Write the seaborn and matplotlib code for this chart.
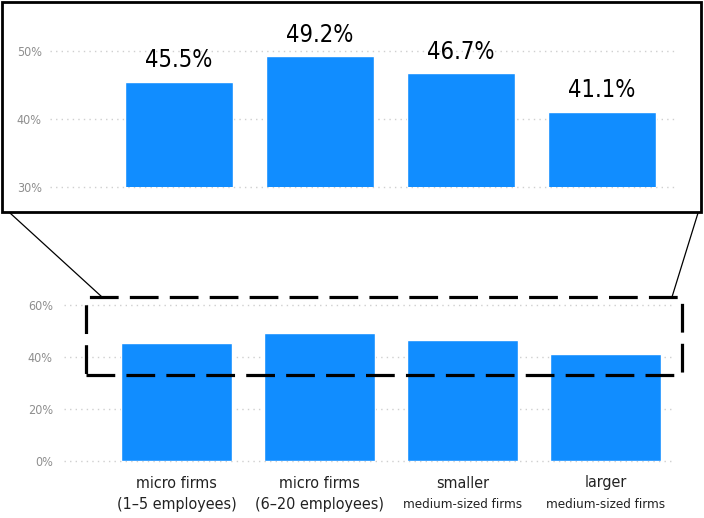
import matplotlib
matplotlib.use("Agg")
import matplotlib.pyplot as plt
import seaborn as sns
import pandas as pd
from matplotlib.patches import Rectangle
from matplotlib.lines import Line2D

categories = ["micro firms (1–5)", "micro firms (6–20)", "smaller medium-sized", "larger medium-sized"]
values = [45.5, 49.2, 46.7, 41.1]
label_line1 = ["micro firms", "micro firms", "smaller", "larger"]
label_line2 = ["(1–5 employees)", "(6–20 employees)", "medium-sized firms", "medium-sized firms"]
top_ticks = [30, 40, 50]
bottom_ticks = [0, 20, 40, 60]

sns.set_theme(style="white")
plt.rcParams["font.family"] = ["DejaVu Sans"]
plt.rcParams["font.stretch"] = "condensed"

df = pd.DataFrame({"category": categories, "value": values})

W, H = 704, 518
fig = plt.figure(figsize=(W / 100, H / 100), dpi=100)
fig.patch.set_facecolor("white")

BLUE = "#118DFF"
GRID = "#cfcfcf"
TICKC = "#8e8e8e"

def px_axes(x0, x1, ytop, ybot):
    return [x0 / W, (H - ybot) / H, (x1 - x0) / W, (ybot - ytop) / H]

# ---------- top (zoomed) axes ----------
t_lo, t_hi = 30, 55
ax_t = fig.add_axes(px_axes(50, 675, 187 - (t_hi - t_lo) * 6.8, 187))
sns.barplot(data=df, x="category", y="value", color=BLUE, width=0.77,
            saturation=1, ax=ax_t, zorder=3)
ax_t.set_ylim(t_lo, t_hi)
c0, sp = 179, 141
ax_t.set_xlim((50 - c0) / sp, (675 - c0) / sp)
ax_t.set_yticks(top_ticks)
ax_t.set_yticklabels([f"{t}%" for t in top_ticks], color=TICKC, fontsize=9,
                     fontstretch="condensed")
ax_t.tick_params(axis="y", length=0, pad=6)
ax_t.set_xticks([])
ax_t.set_xlabel("")
ax_t.set_ylabel("")
for s in ax_t.spines.values():
    s.set_visible(False)
for t in top_ticks:
    ax_t.axhline(t, color=GRID, lw=1, ls=(0, (1, 3)), zorder=1, clip_on=False)
for i, v in enumerate(values):
    ax_t.text(i, v + 2.15, f"{v:.1f}%", ha="center", va="baseline",
              fontsize=17, color="black", fontstretch="condensed")

# ---------- bottom axes ----------
b_hi = 65
ax_b = fig.add_axes(px_axes(64, 672, 461 - b_hi * 2.6, 461))
sns.barplot(data=df, x="category", y="value", color=BLUE, width=0.77,
            saturation=1, ax=ax_b, zorder=3)
ax_b.set_ylim(0, b_hi)
c0b, spb = 176.5, 143
ax_b.set_xlim((64 - c0b) / spb, (672 - c0b) / spb)
ax_b.set_yticks(bottom_ticks)
ax_b.set_yticklabels([f"{t}%" for t in bottom_ticks], color=TICKC, fontsize=9,
                     fontstretch="condensed")
ax_b.tick_params(axis="y", length=0, pad=8)
ax_b.set_xticks([])
ax_b.set_xlabel("")
ax_b.set_ylabel("")
for s in ax_b.spines.values():
    s.set_visible(False)
for t in bottom_ticks:
    ax_b.axhline(t, color=GRID, lw=1, ls=(0, (1, 3)), zorder=1, clip_on=False)

for i in range(len(categories)):
    big2 = label_line2[i].startswith("(")
    fig.text((c0b + spb * i) / W, (H - 483) / H, label_line1[i],
             ha="center", va="center", fontsize=11.5, color="#222222",
             fontstretch="condensed")
    fig.text((c0b + spb * i) / W, (H - 504) / H, label_line2[i],
             ha="center", va="center", fontsize=11.5 if big2 else 9.5,
             color="#222222", fontstretch="condensed")

# ---------- frame around zoom panel ----------
fig.patches.append(Rectangle((2 / W, (H - 212) / H), 699 / W, 210 / H,
                             transform=fig.transFigure, fill=False,
                             edgecolor="black", lw=2))

# ---------- dashed selection rectangle ----------
fig.patches.append(Rectangle((86 / W, (H - 375) / H), (682 - 86) / W, (375 - 297) / H,
                             transform=fig.transFigure, fill=False,
                             edgecolor="black", lw=2.3,
                             ls=(0, (9, 3.5)), zorder=5))

# ---------- connector lines ----------
fig.lines.append(Line2D([10 / W, 102 / W], [(H - 213) / H, (H - 297) / H],
                        transform=fig.transFigure, color="black", lw=0.9))
fig.lines.append(Line2D([698 / W, 672 / W], [(H - 213) / H, (H - 297) / H],
                        transform=fig.transFigure, color="black", lw=0.9))

fig.savefig("out.png", dpi=100, facecolor="white")
